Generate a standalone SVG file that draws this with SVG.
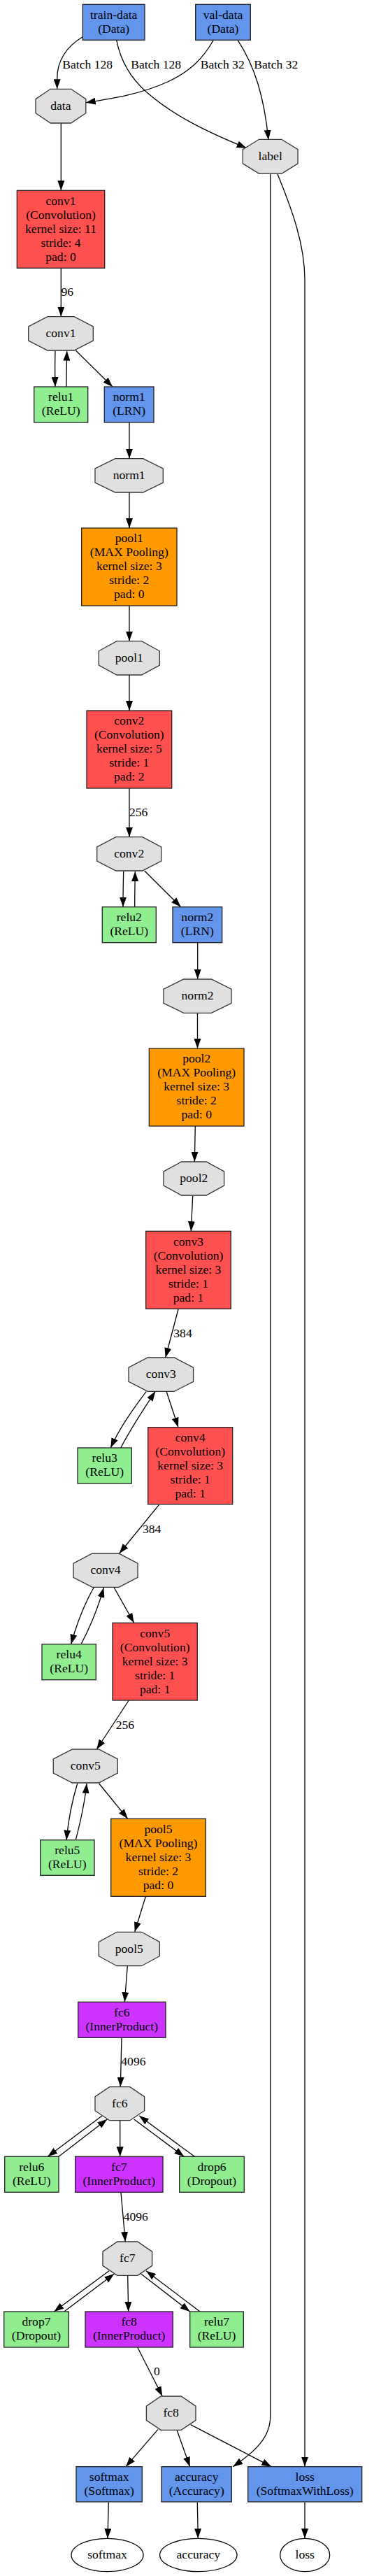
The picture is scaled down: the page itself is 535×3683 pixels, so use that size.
<svg xmlns="http://www.w3.org/2000/svg" width="535" height="3683" viewBox="0 0 535 3683">
<style>
text{font-family:"Liberation Serif","Times New Roman",serif;font-size:17.6px;fill:#000}
.n text{text-anchor:middle}
.box{stroke:#222;stroke-width:1.3}
.red{fill:#FF5050}.blue{fill:#6495ED}.green{fill:#90EE90}.orange{fill:#FF9900}.purple{fill:#CC33FF}
.blob{fill:#E0E0E0;stroke:#333;stroke-width:1.3}
.ell{fill:#fff;stroke:#000;stroke-width:1.3}
#edges path{fill:none;stroke:#000;stroke-width:1.3;marker-end:url(#arr)}
#edges text{text-anchor:start}
</style>
<defs>
<marker id="arr" viewBox="0 0 14 10" refX="14" refY="5" markerWidth="14" markerHeight="10" markerUnits="userSpaceOnUse" orient="auto">
<path d="M0,0 L14,5 L0,10 z" fill="#000"/>
</marker>
</defs>
<rect width="535" height="3683" fill="#fff"/>
<g id="edges">
<path d="M118.3,52.7 C96,66 81.7,86 81.7,113 L81.7,127.3"/>
<text x="89.3" y="97.7">Batch 128</text>
<path d="M166.7,57.3 C172,85 185,110 210,132 C250,167 300,190 352.7,211.7"/>
<text x="187.3" y="97.7">Batch 128</text>
<path d="M305.3,57.3 C290,85 270,103 240,117 C200,135 160,141 122.7,146.7"/>
<text x="286.7" y="97.7">Batch 32</text>
<path d="M340,57.3 C365,95 378,140 384,200"/>
<text x="363.3" y="97.7">Batch 32</text>
<path d="M87.3,176 L87.3,272.3"/>
<path d="M87.3,383.3 L87.3,452.7"/>
<text x="87.5" y="423.3">96</text>
<path d="M79,501.7 C78.5,520 78.5,535 79,553"/>
<path d="M95,553 C95,535 95.3,520 95.7,501.7"/>
<path d="M108.3,501 L161,553"/>
<path d="M185,604 L185,655.7"/>
<path d="M185,704 L185,755"/>
<path d="M185,866 L185,916.7"/>
<path d="M185,965 L185,1016"/>
<path d="M185,1127 L185,1196.7"/>
<text x="185" y="1167.3">256</text>
<path d="M176.7,1246 C176.2,1265 176,1280 176,1296.7"/>
<path d="M192.7,1296.7 C192.7,1280 193,1265 193.3,1246"/>
<path d="M206.7,1245 L258.7,1296.7"/>
<path d="M282.7,1347.7 L282.7,1400"/>
<path d="M282.5,1448.3 L282.5,1499"/>
<path d="M279.3,1610 L278.3,1661"/>
<path d="M275.7,1710 L273.3,1760.3"/>
<path d="M255,1872 L236.7,1941"/>
<text x="248.3" y="1911.7">384</text>
<path d="M209.3,1989.3 C190,2015 172,2040 158.3,2070"/>
<path d="M172.7,2070 C187,2043 205,2015 222.3,1989.3"/>
<path d="M238.3,1990 L255,2040.7"/>
<path d="M227.3,2151.7 L170.7,2221"/>
<text x="204" y="2191.7">384</text>
<path d="M134,2270 C120,2295 110,2320 101.7,2350.7"/>
<path d="M116,2350.7 C128,2328 140,2300 148.3,2270"/>
<path d="M163.3,2270 L191.7,2320.3"/>
<path d="M184.3,2431 L138.3,2501"/>
<text x="165.7" y="2471.7">256</text>
<path d="M110.7,2550 C103,2575 98,2600 95,2630.7"/>
<path d="M108.3,2630.7 C115,2605 121,2580 124,2550"/>
<path d="M141.7,2550 L182.7,2600.3"/>
<path d="M208.3,2711.7 L192.7,2762"/>
<path d="M182.3,2811 L178.3,2862.3"/>
<path d="M174,2913.3 L172.3,2983.7"/>
<text x="173.3" y="2953.3">4096</text>
<path d="M146,3025 L68.3,3083.3"/>
<path d="M84,3083.3 L153.3,3030"/>
<path d="M171.7,3031.7 L171.7,3083.3"/>
<path d="M191.7,3030 L263.3,3083.3"/>
<path d="M278.3,3083.3 L199,3025"/>
<path d="M173,3135 L179.3,3205"/>
<text x="176.7" y="3175">4096</text>
<path d="M156,3246.7 L77.3,3305"/>
<path d="M91.7,3305 L163.3,3251"/>
<path d="M182.7,3254 L183.7,3305"/>
<path d="M201.7,3251 L271.7,3305"/>
<path d="M286,3305 L209,3246.7"/>
<path d="M196.7,3356 L232.3,3426"/>
<text x="220" y="3396">0</text>
<path d="M226,3473.3 L180,3526.7"/>
<path d="M253.3,3475 L271.7,3526.7"/>
<path d="M272.7,3466.7 L388.3,3526.7"/>
<path d="M386.7,248.3 L386.7,3455 C386.7,3485 365,3505 333.3,3526.7"/>
<path d="M396.7,248.3 C418,300 436,350 436,400 L436,3526.7"/>
<path d="M155.3,3577.7 L154,3629.3"/>
<path d="M282.3,3577.7 L283.3,3629.3"/>
<path d="M436,3577.7 L436,3629.3"/>
</g>
<g class="n">
<g id="train-data"><rect class="box blue" x="118.3" y="6.3" width="88.7" height="51"/><text x="162.7" y="26.6">train-data</text><text x="162.7" y="46.6">(Data)</text></g>
<g id="val-data"><rect class="box blue" x="279.7" y="6.3" width="78.6" height="51"/><text x="319" y="26.6">val-data</text><text x="319" y="46.6">(Data)</text></g>
<g id="data-blob"><polygon class="blob" points="72.2,127.3 101.6,127.3 122.8,141.7 122.8,161.7 101.6,176 72.2,176 51,161.7 51,141.7"/><text x="86.9" y="156.8">data</text></g>
<g id="label-blob"><polygon class="blob" points="370.6,199.3 402.8,199.3 426.1,213.7 426.1,233.9 402.8,248.3 370.6,248.3 347.3,233.9 347.3,213.7"/><text x="386.7" y="228.9">label</text></g>
<g id="conv1"><rect class="box red" x="24.3" y="272.3" width="125.4" height="111"/><text x="87" y="292.6">conv1</text><text x="87" y="312.6">(Convolution)</text><text x="87" y="332.6">kernel size: 11</text><text x="87" y="352.6">stride: 4</text><text x="87" y="372.6">pad: 0</text></g>
<g id="conv1-blob"><polygon class="blob" points="68,452.7 106,452.7 133.3,466.8 133.3,487 106,501 68,501 40.7,487 40.7,466.8"/><text x="87" y="481.9">conv1</text></g>
<g id="relu1"><rect class="box green" x="48.7" y="553" width="77" height="51"/><text x="87.2" y="573.3">relu1</text><text x="87.2" y="593.3">(ReLU)</text></g>
<g id="norm1"><rect class="box blue" x="149.3" y="553" width="70.7" height="51"/><text x="184.7" y="573.3">norm1</text><text x="184.7" y="593.3">(LRN)</text></g>
<g id="norm1-blob"><polygon class="blob" points="164.8,655.7 204.6,655.7 233.3,669.8 233.3,690 204.6,704 164.8,704 136,690 136,669.8"/><text x="184.7" y="685">norm1</text></g>
<g id="pool1"><rect class="box orange" x="116.7" y="755" width="136.3" height="111"/><text x="184.8" y="775.3">pool1</text><text x="184.8" y="795.3">(MAX Pooling)</text><text x="184.8" y="815.3">kernel size: 3</text><text x="184.8" y="835.3">stride: 2</text><text x="184.8" y="855.3">pad: 0</text></g>
<g id="pool1-blob"><polygon class="blob" points="167,916.7 202.6,916.7 228.3,930.8 228.3,951 202.6,965 167,965 141.3,951 141.3,930.8"/><text x="184.8" y="946">pool1</text></g>
<g id="conv2"><rect class="box red" x="124" y="1016" width="121.7" height="111"/><text x="184.8" y="1036.3">conv2</text><text x="184.8" y="1056.3">(Convolution)</text><text x="184.8" y="1076.3">kernel size: 5</text><text x="184.8" y="1096.3">stride: 1</text><text x="184.8" y="1116.3">pad: 2</text></g>
<g id="conv2-blob"><polygon class="blob" points="165.8,1196.7 203.6,1196.7 230.7,1210.8 230.7,1231 203.6,1245 165.8,1245 138.7,1231 138.7,1210.8"/><text x="184.7" y="1226">conv2</text></g>
<g id="relu2"><rect class="box green" x="146.3" y="1296.7" width="77" height="51"/><text x="184.8" y="1317">relu2</text><text x="184.8" y="1337">(ReLU)</text></g>
<g id="norm2"><rect class="box blue" x="247" y="1296.7" width="70.7" height="51"/><text x="282.3" y="1317">norm2</text><text x="282.3" y="1337">(LRN)</text></g>
<g id="norm2-blob"><polygon class="blob" points="262.6,1400 302.4,1400 331,1414.1 331,1434.3 302.4,1448.3 262.6,1448.3 234,1434.3 234,1414.1"/><text x="282.5" y="1429.3">norm2</text></g>
<g id="pool2"><rect class="box orange" x="213.3" y="1499" width="135.7" height="111"/><text x="281.2" y="1519.3">pool2</text><text x="281.2" y="1539.3">(MAX Pooling)</text><text x="281.2" y="1559.3">kernel size: 3</text><text x="281.2" y="1579.3">stride: 2</text><text x="281.2" y="1599.3">pad: 0</text></g>
<g id="pool2-blob"><polygon class="blob" points="259.5,1661 295.1,1661 320.6,1675 320.6,1695 295.1,1709 259.5,1709 234,1695 234,1675"/><text x="277.3" y="1690">pool2</text></g>
<g id="conv3"><rect class="box red" x="208.7" y="1760.3" width="121.6" height="111"/><text x="269.5" y="1780.6">conv3</text><text x="269.5" y="1800.6">(Convolution)</text><text x="269.5" y="1820.6">kernel size: 3</text><text x="269.5" y="1840.6">stride: 1</text><text x="269.5" y="1860.6">pad: 1</text></g>
<g id="conv3-blob"><polygon class="blob" points="211.3,1941 249.3,1941 276.6,1955.1 276.6,1975.3 249.3,1989.3 211.3,1989.3 184,1975.3 184,1955.1"/><text x="230.3" y="1970.3">conv3</text></g>
<g id="relu3"><rect class="box green" x="111" y="2070" width="77.3" height="51"/><text x="149.7" y="2090.3">relu3</text><text x="149.7" y="2110.3">(ReLU)</text></g>
<g id="conv4"><rect class="box red" x="211.7" y="2040.7" width="121" height="110"/><text x="272.2" y="2061">conv4</text><text x="272.2" y="2081">(Convolution)</text><text x="272.2" y="2101">kernel size: 3</text><text x="272.2" y="2121">stride: 1</text><text x="272.2" y="2141">pad: 1</text></g>
<g id="conv4-blob"><polygon class="blob" points="132.1,2221 169.9,2221 197,2235.1 197,2255.3 169.9,2269.3 132.1,2269.3 105,2255.3 105,2235.1"/><text x="151" y="2250.2">conv4</text></g>
<g id="relu4"><rect class="box green" x="60" y="2350.7" width="77.3" height="51"/><text x="98.7" y="2371">relu4</text><text x="98.7" y="2391">(ReLU)</text></g>
<g id="conv5"><rect class="box red" x="161" y="2320.3" width="121.3" height="110.7"/><text x="221.7" y="2340.6">conv5</text><text x="221.7" y="2360.6">(Convolution)</text><text x="221.7" y="2380.6">kernel size: 3</text><text x="221.7" y="2400.6">stride: 1</text><text x="221.7" y="2420.6">pad: 1</text></g>
<g id="conv5-blob"><polygon class="blob" points="103.4,2501 141.2,2501 168.3,2515 168.3,2535 141.2,2549 103.4,2549 76.3,2535 76.3,2515"/><text x="122.3" y="2530">conv5</text></g>
<g id="relu5"><rect class="box green" x="57.7" y="2630.7" width="77.3" height="50.6"/><text x="96.3" y="2651">relu5</text><text x="96.3" y="2671">(ReLU)</text></g>
<g id="pool5"><rect class="box orange" x="158.7" y="2600.3" width="135.6" height="111"/><text x="226.5" y="2620.6">pool5</text><text x="226.5" y="2640.6">(MAX Pooling)</text><text x="226.5" y="2660.6">kernel size: 3</text><text x="226.5" y="2680.6">stride: 2</text><text x="226.5" y="2700.6">pad: 0</text></g>
<g id="pool5-blob"><polygon class="blob" points="167,2762.3 202.6,2762.3 228.3,2776.5 228.3,2796.7 202.6,2810.7 167,2810.7 141.3,2796.7 141.3,2776.5"/><text x="184.8" y="2791.6">pool5</text></g>
<g id="fc6"><rect class="box purple" x="111.7" y="2862.3" width="125.3" height="51"/><text x="174.3" y="2882.6">fc6</text><text x="174.3" y="2902.6">(InnerProduct)</text></g>
<g id="fc6-blob"><polygon class="blob" points="156.8,2983.7 185.8,2983.7 206.6,2997.7 206.6,3017.7 185.8,3031.7 156.8,3031.7 136,3017.7 136,2997.7"/><text x="171.3" y="3012.7">fc6</text></g>
<g id="relu6"><rect class="box green" x="6.7" y="3083.3" width="77.3" height="51"/><text x="45.3" y="3103.6">relu6</text><text x="45.3" y="3123.6">(ReLU)</text></g>
<g id="fc7"><rect class="box purple" x="107.7" y="3083.3" width="125.3" height="51"/><text x="170.3" y="3103.6">fc7</text><text x="170.3" y="3123.6">(InnerProduct)</text></g>
<g id="drop6"><rect class="box green" x="256.7" y="3083.3" width="92.6" height="51"/><text x="303" y="3103.6">drop6</text><text x="303" y="3123.6">(Dropout)</text></g>
<g id="fc7-blob"><polygon class="blob" points="167.8,3205 196.8,3205 217.6,3219.1 217.6,3239.3 196.8,3253.3 167.8,3253.3 147,3239.3 147,3219.1"/><text x="182.3" y="3234.2">fc7</text></g>
<g id="drop7"><rect class="box green" x="5.7" y="3305" width="92.6" height="51"/><text x="52" y="3325.3">drop7</text><text x="52" y="3345.3">(Dropout)</text></g>
<g id="fc8"><rect class="box purple" x="122" y="3305" width="125.3" height="51"/><text x="184.7" y="3325.3">fc8</text><text x="184.7" y="3345.3">(InnerProduct)</text></g>
<g id="relu7"><rect class="box green" x="271.7" y="3305" width="76.6" height="51"/><text x="310" y="3325.3">relu7</text><text x="310" y="3345.3">(ReLU)</text></g>
<g id="fc8-blob"><polygon class="blob" points="230.2,3426 259.2,3426 280,3440.1 280,3460.3 259.2,3474.3 230.2,3474.3 209.4,3460.3 209.4,3440.1"/><text x="244.7" y="3455.2">fc8</text></g>
<g id="softmax"><rect class="box blue" x="109" y="3526.7" width="94.3" height="50.3"/><text x="156.2" y="3547">softmax</text><text x="156.2" y="3567">(Softmax)</text></g>
<g id="accuracy"><rect class="box blue" x="231" y="3526.7" width="100.3" height="50.3"/><text x="281.2" y="3547">accuracy</text><text x="281.2" y="3567">(Accuracy)</text></g>
<g id="loss"><rect class="box blue" x="354.7" y="3526.7" width="163" height="50.3"/><text x="436.2" y="3547">loss</text><text x="436.2" y="3567">(SoftmaxWithLoss)</text></g>
<g id="softmax-out"><ellipse class="ell" cx="153.5" cy="3653" rx="51.5" ry="23.7"/><text x="153.5" y="3658">softmax</text></g>
<g id="accuracy-out"><ellipse class="ell" cx="283.8" cy="3653" rx="55.2" ry="23.7"/><text x="283.8" y="3658">accuracy</text></g>
<g id="loss-out"><ellipse class="ell" cx="436.2" cy="3653" rx="35.5" ry="23.7"/><text x="436.2" y="3658">loss</text></g>
</g>
</svg>
